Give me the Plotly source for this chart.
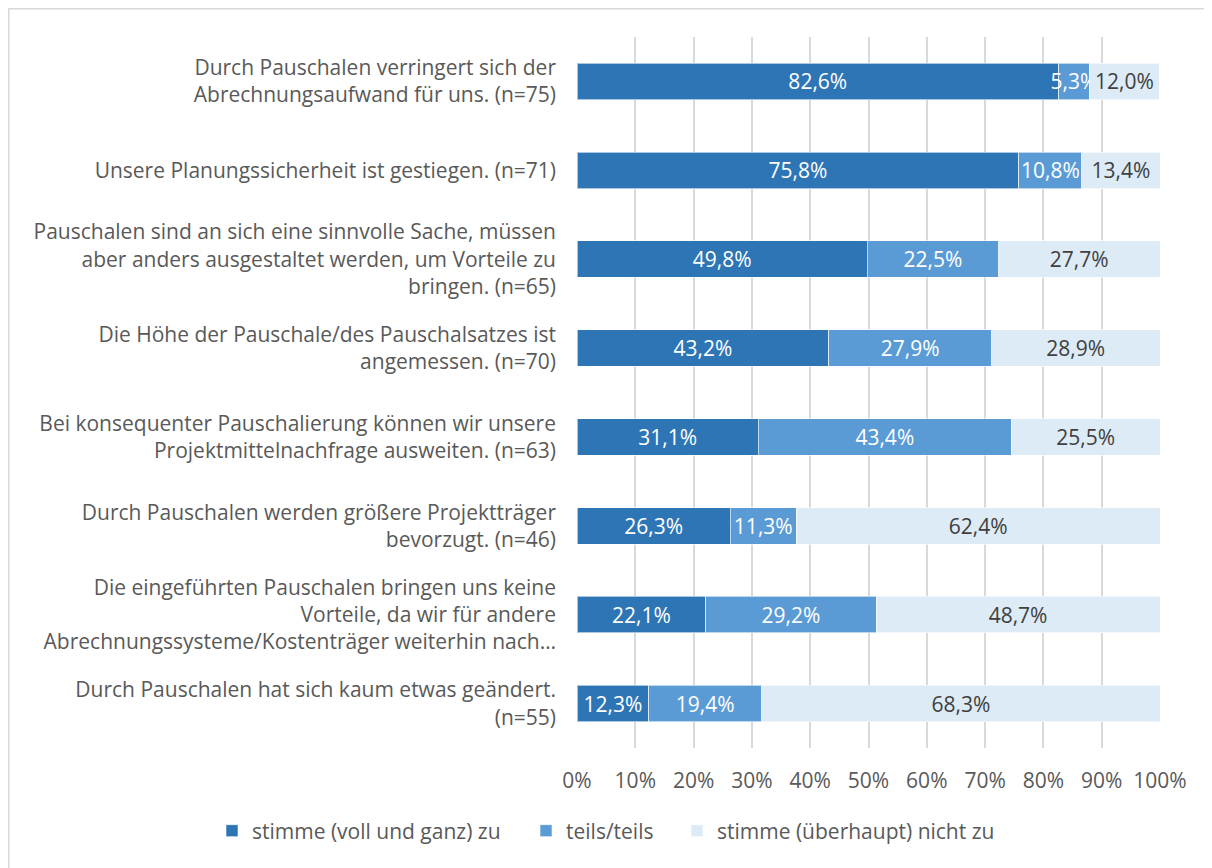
import plotly.graph_objects as go

# Kategorien (von oben nach unten)
categories = [
    "Durch Pauschalen verringert sich der<br>Abrechnungsaufwand für uns. (n=75)",
    "Unsere Planungssicherheit ist gestiegen. (n=71)",
    "Pauschalen sind an sich eine sinnvolle Sache, müssen<br>aber anders ausgestaltet werden, um Vorteile zu<br>bringen. (n=65)",
    "Die Höhe der Pauschale/des Pauschalsatzes ist<br>angemessen. (n=70)",
    "Bei konsequenter Pauschalierung können wir unsere<br>Projektmittelnachfrage ausweiten. (n=63)",
    "Durch Pauschalen werden größere Projektträger<br>bevorzugt. (n=46)",
    "Die eingeführten Pauschalen bringen uns keine<br>Vorteile, da wir für andere<br>Abrechnungssysteme/Kostenträger weiterhin nach…",
    "Durch Pauschalen hat sich kaum etwas geändert.<br>(n=55)",
]

stimme_zu = [82.6, 75.8, 49.8, 43.2, 31.1, 26.3, 22.1, 12.3]
teils = [5.3, 10.8, 22.5, 27.9, 43.4, 11.3, 29.2, 19.4]
stimme_nicht_zu = [12.0, 13.4, 27.7, 28.9, 25.5, 62.4, 48.7, 68.3]

series_names = ["stimme (voll und ganz) zu", "teils/teils", "stimme (überhaupt) nicht zu"]
x_ticks = [0, 10, 20, 30, 40, 50, 60, 70, 80, 90, 100]

colors = ["#2E75B6", "#5B9BD5", "#DDEBF7"]
text_colors = ["white", "white", "#404040"]
FONT = "Open Sans"
FS = 21
GRAY = "#595959"

# die Seite hat 8px Rand -> Figur um 8px kleiner, Pixel relativ zur Seite
OFF = 8
W, H = 1212 - OFF, 868 - OFF
L, T = 577 - OFF, 37 - OFF
R = W - (1160 - OFF)
B = H - (748 - OFF)
pw = W - L - R
ph = H - T - B


def px_x(x):
    return (x - OFF - L) / pw


def px_y(y):
    return 1 - (y - OFF - T) / ph


def fmt(v):
    return f"{v:.1f}".replace(".", ",") + "%"


fig = go.Figure()
legend_ids = ["legend2", "legend3", "legend4"]
for vals, name, col, tcol, lg in zip([stimme_zu, teils, stimme_nicht_zu], series_names,
                                     colors, text_colors, legend_ids):
    fig.add_trace(go.Bar(
        y=categories,
        x=vals,
        name=name,
        orientation="h",
        marker=dict(color=col, line=dict(color="rgba(255,255,255,0.6)", width=1)),
        text=[fmt(v) for v in vals],
        textposition="inside",
        insidetextanchor="middle",
        constraintext="none",
        textangle=0,
        textfont=dict(family=FONT, size=FS, color=tcol),
        legend=lg,
    ))

legend_common = dict(
    orientation="h",
    yanchor="middle",
    xanchor="left",
    font=dict(family=FONT, size=FS, color=GRAY),
    itemwidth=30,
    bgcolor="rgba(0,0,0,0)",
)

fig.update_layout(
    width=W,
    height=H,
    barmode="stack",
    bargap=0.59,
    margin=dict(l=L, r=R, t=T, b=B),
    paper_bgcolor="white",
    plot_bgcolor="white",
    font=dict(family=FONT, size=FS, color=GRAY),
    legend2=dict(x=px_x(212), y=px_y(831), **legend_common),
    legend3=dict(x=px_x(526), y=px_y(831), **legend_common),
    legend4=dict(x=px_x(677), y=px_y(831), **legend_common),
    shapes=[dict(
        type="rect", xref="paper", yref="paper",
        x0=px_x(OFF + 0.75), x1=1.3, y0=-0.5, y1=px_y(OFF + 0.75),
        line=dict(color="#D9D9D9", width=1.5), fillcolor="rgba(0,0,0,0)",
        layer="below",
    )],
)

fig.update_xaxes(
    range=[0, 100],
    tickvals=x_ticks,
    ticktext=[f"{t}%" for t in x_ticks],
    showgrid=True,
    gridcolor="#D9D9D9",
    gridwidth=1.5,
    zeroline=False,
    showline=False,
    ticks="",
    tickfont=dict(family=FONT, size=FS, color=GRAY),
    ticklabelstandoff=18,
)

fig.update_yaxes(
    categoryorder="array",
    categoryarray=categories[::-1],
    showgrid=False,
    zeroline=False,
    showline=False,
    ticks="",
    tickfont=dict(family=FONT, size=FS, color=GRAY),
    ticklabelstandoff=20,
)

fig.write_html("out.html")
